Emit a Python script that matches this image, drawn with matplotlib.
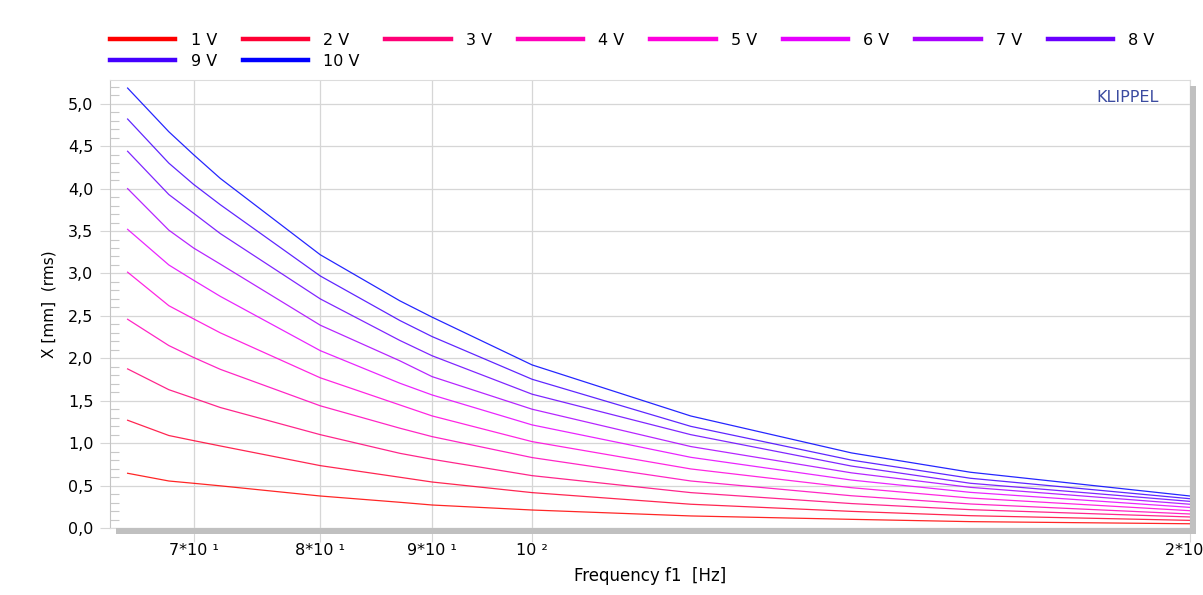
"""
Klippel excursion vs frequency, 1..10 V drive
"""
import numpy as np
import matplotlib
matplotlib.use("Agg")
import matplotlib.pyplot as plt
from matplotlib.patches import Rectangle
from matplotlib.ticker import FixedLocator, NullLocator, MultipleLocator, FuncFormatter

plt.rcParams['font.family'] = ['DejaVu Sans']

# frequency points [Hz]
freq = [65.3, 68.2, 70, 72, 80, 87, 90, 100, 118.2, 140, 158.7, 200]

x_1v = [0.645, 0.554, 0.527, 0.497, 0.377, 0.303, 0.271, 0.212, 0.142, 0.102, 0.075, 0.050]
x_2v = [1.27, 1.09, 1.03, 0.967, 0.735, 0.598, 0.542, 0.417, 0.280, 0.196, 0.145, 0.090]
x_3v = [1.875, 1.63, 1.53, 1.42, 1.10, 0.88, 0.81, 0.617, 0.417, 0.288, 0.216, 0.130]
x_4v = [2.46, 2.15, 2.01, 1.87, 1.44, 1.176, 1.077, 0.83, 0.554, 0.380, 0.283, 0.165]
x_5v = [3.015, 2.62, 2.465, 2.30, 1.77, 1.45, 1.321, 1.018, 0.696, 0.475, 0.353, 0.204]
x_6v = [3.52, 3.10, 2.92, 2.73, 2.09, 1.706, 1.568, 1.215, 0.833, 0.565, 0.420, 0.243]
x_7v = [4.00, 3.51, 3.30, 3.11, 2.39, 1.97, 1.784, 1.40, 0.96, 0.650, 0.479, 0.280]
x_8v = [4.44, 3.93, 3.71, 3.47, 2.70, 2.21, 2.03, 1.577, 1.10, 0.730, 0.527, 0.314]
x_9v = [4.82, 4.30, 4.05, 3.81, 2.97, 2.445, 2.256, 1.753, 1.198, 0.800, 0.586, 0.345]
x_10v = [5.185, 4.67, 4.40, 4.12, 3.22, 2.677, 2.485, 1.922, 1.32, 0.885, 0.657, 0.377]

labels = ['1 V', '2 V', '3 V', '4 V', '5 V', '6 V', '7 V', '8 V', '9 V', '10 V']
colors = ['#ff0000', '#ff0033', '#ff0077', '#ff00bb', '#ff00dd',
          '#e600ff', '#aa00ff', '#6a00ff', '#4400ff', '#0000ff']

xticks = [70, 80, 90, 100, 200]
xtick_labels = ['7*10 ¹', '8*10 ¹', '9*10 ¹', '10 ²', '2*10 ²']

grid_c = '#d6d6d6'

fig = plt.figure(figsize=(12.03, 5.95), dpi=100)
ax = fig.add_axes([110 / 1203, 67 / 595, 1080 / 1203, 448 / 595])

series = [x_1v, x_2v, x_3v, x_4v, x_5v, x_6v, x_7v, x_8v, x_9v, x_10v]
handles = []
for vals, lab, col in zip(series, labels, colors):
    ln, = ax.plot(freq, vals, color=col, lw=0.9, alpha=0.85, label=lab)
    handles.append(ln)

ax.set_xscale('log')
ax.set_xlim(64.1, 200)
ax.set_ylim(0, 5.28)

ax.xaxis.set_major_locator(FixedLocator(xticks))
ax.xaxis.set_minor_locator(NullLocator())
ax.set_xticklabels(xtick_labels)
ax.yaxis.set_major_locator(MultipleLocator(0.5))
ax.yaxis.set_minor_locator(MultipleLocator(0.1))
ax.yaxis.set_major_formatter(FuncFormatter(lambda v, p: f'{v:.1f}'.replace('.', ',')))

ax.grid(True, which='major', color=grid_c, lw=0.9)
ax.set_axisbelow(True)

ax.tick_params(axis='x', which='major', length=10, width=0.8, color=grid_c,
               pad=1, labelsize=11.5)
ax.tick_params(axis='y', which='major', length=7, width=0.8, color=grid_c,
               pad=5, labelsize=11.5)
ax.tick_params(axis='y', which='minor', direction='in', length=6.5, width=0.8,
               color='#c8c8c8')

for side in ['top', 'right', 'bottom']:
    ax.spines[side].set_color('#dcdcdc')
    ax.spines[side].set_linewidth(0.8)
ax.spines['left'].set_color('#c4c4c4')
ax.spines['left'].set_linewidth(0.8)

# shadow bars under and right of the plot frame
ax.add_patch(Rectangle((0.0056, -0.0134), 1.0, 0.0134, transform=ax.transAxes,
                       color='#c0c0c0', clip_on=False, zorder=5, lw=0))
ax.add_patch(Rectangle((1.0, -0.0134), 0.0056, 0.0134 + 0.9866, transform=ax.transAxes,
                       color='#c0c0c0', clip_on=False, zorder=5, lw=0))

ax.set_xlabel('Frequency f1  [Hz]', fontsize=12, labelpad=6)
ax.set_ylabel('X [mm]  (rms)', fontsize=11, labelpad=8)

ax.text(0.9426, 0.96, 'KLIPPEL', transform=ax.transAxes, ha='center', va='center',
        fontsize=11.5, color='#3b4ba0')

# legend fills column-wise, so reorder to get rows of 8
order = [0, 8, 1, 9, 2, 3, 4, 5, 6, 7]
fig.legend([handles[i] for i in order], [labels[i] for i in order],
           loc='upper left', bbox_to_anchor=(110 / 1203, 1 - 33 / 595), ncol=8,
           frameon=False, fontsize=11.5, handlelength=4.1, handletextpad=0.95,
           columnspacing=1.6, labelspacing=0.35, borderpad=0, borderaxespad=0)
leg = fig.legends[0]
for h in leg.get_lines():
    h.set_linewidth(3.2)
    h.set_alpha(1.0)

fig.savefig('out.png', dpi=100)
